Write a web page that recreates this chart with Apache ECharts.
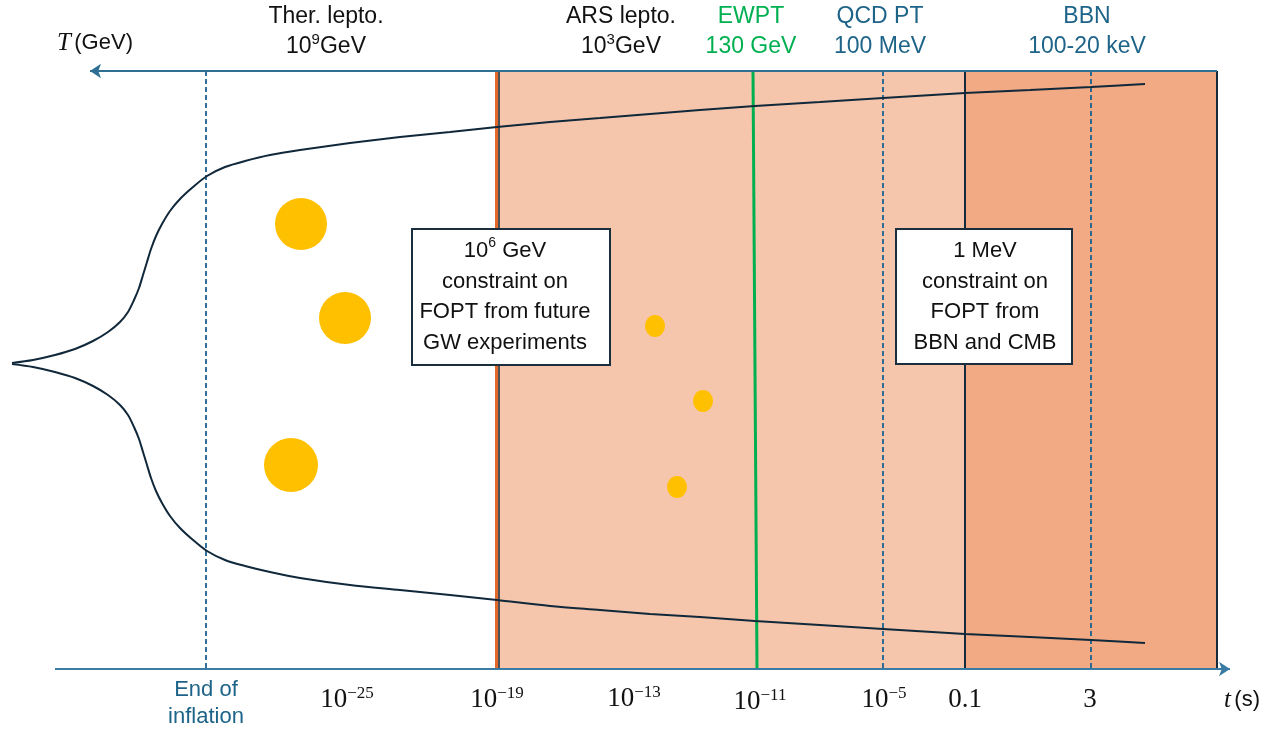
<!DOCTYPE html>
<html><head><meta charset="utf-8">
<script src="https://cdn.jsdelivr.net/npm/echarts@6/dist/echarts.min.js"></script>
<style>html,body{margin:0;padding:0;background:#fff}#c{width:1287px;height:733px}</style>
</head><body><div id="c"></div>
<script>
// ---------- schematic data (diagram units) ----------
const frameTop = 71, frameBottom = 669;
const bandStart = [497, 965];
const bandEnd = [965, 1217];
const dashedX = [206, 883, 1091];
const solidX = [965, 1217];
const gwLineX = 497;
const ewptLine = [[753, 71], [757, 669]];

const upperCurve = [[12,363],[33,360],[55,355],[75,349],[93,341],[108,332],[120,322],[128,312],[134,300],[139,288],[143,275],[147,262],[151,249],[156,236],[162,224],[170,211],[180,199],[193,187],[207,176],[225,167],[245,161],[270,155],[300,150],[350,143],[400,137],[450,132],[497,127],[550,122],[600,118],[650,114],[700,110],[755,106],[820,102],[883,98],[965,93],[1030,90],[1091,87],[1145,84]];
const lowerCurve = [[12,364],[33,367],[55,372],[75,378],[93,386],[108,395],[120,405],[128,415],[134,427],[139,439],[143,452],[147,465],[151,478],[156,491],[162,503],[170,516],[180,528],[193,540],[207,551],[225,560],[245,566],[270,572],[300,578],[350,585],[400,590],[450,595],[497,600],[550,606],[600,610],[650,614],[700,617],[755,621],[820,625],[883,629],[965,634],[1030,637],[1091,640],[1145,643]];

const bigBubbles = [[301,224],[345,318],[291,465]];
const bigBubbleSize = [52, 52, 54];
const smallBubbles = [[655,326],[703,401],[677,487]];

const boxes = [[[412,229],[610,365]], [[896,229],[1072,364]]];
const boxText = [
  '{bx|10}{bxs|6}{bx| GeV}\n{bx|constraint on}\n{bx|FOPT from future}\n{bx|GW experiments}',
  '{bx|1 MeV}\n{bx|constraint on}\n{bx|FOPT from}\n{bx|BBN and CMB}'
];
const boxTextPos = [[505,297],[985,297]];

const topLabelText = [
  '{k|Ther. lepto.}\n{k|10}{ks|9}{k|GeV}',
  '{k|ARS lepto.}\n{k|10}{ks|3}{k|GeV}',
  '{g|EWPT}\n{g|130 GeV}',
  '{b|QCD PT}\n{b|100 MeV}',
  '{b|BBN}\n{b|100-20 keV}'
];
const topLabelX = [326, 621, 751, 880, 1087];
const topLabelY = 32;

const tickText = ['{m|10}{ms|−25}','{m|10}{ms|−19}','{m|10}{ms|−13}','{m|10}{ms|−11}','{m|10}{ms|−5}','{m|0.1}','{m|3}'];
const tickX = [347, 497, 634, 760, 884, 965, 1090];
const tickY = [700, 700, 699, 702, 700, 700, 700];

const axisTitles = ['{it|T} {st|(GeV)}', '{it|t} {st|(s)}'];
const axisTitlePos = [[95, 43], [1242, 700]];
const endInflText = '{e|End of}\n{e|inflation}';
const endInflPos = [206, 703];

// ---------- styles ----------
const SANS = '"Liberation Sans", Arial, sans-serif';
const SERIF = '"Liberation Serif", "Times New Roman", serif';
const BLACK = '#111111', TEAL = '#1E6489', GREEN = '#00B050', DARK = '#152B3C';
const rich = {
  k: {fontFamily: SANS, fontSize: 23, lineHeight: 30, color: BLACK},
  ks: {fontFamily: SANS, fontSize: 15, lineHeight: 15, color: BLACK, verticalAlign: 'top'},
  g: {fontFamily: SANS, fontSize: 23, lineHeight: 30, color: GREEN},
  b: {fontFamily: SANS, fontSize: 23, lineHeight: 30, color: TEAL},
  bx: {fontFamily: SANS, fontSize: 22, lineHeight: 30.5, color: BLACK},
  bxs: {fontFamily: SANS, fontSize: 14, lineHeight: 17, color: BLACK, verticalAlign: 'top'},
  m: {fontFamily: SERIF, fontSize: 27, lineHeight: 30, color: BLACK},
  ms: {fontFamily: SERIF, fontSize: 17, lineHeight: 16, color: BLACK, verticalAlign: 'top'},
  it: {fontFamily: SERIF, fontSize: 25, fontStyle: 'italic', lineHeight: 30, color: BLACK},
  st: {fontFamily: SANS, fontSize: 22, lineHeight: 30, color: BLACK},
  e: {fontFamily: SANS, fontSize: 22, lineHeight: 27, color: TEAL}
};

const labelItems = [];
topLabelText.forEach((t, i) => labelItems.push({value: [topLabelX[i], topLabelY], txt: t}));
tickText.forEach((t, i) => labelItems.push({value: [tickX[i], tickY[i]], txt: t}));
axisTitles.forEach((t, i) => labelItems.push({value: axisTitlePos[i], txt: t}));
boxText.forEach((t, i) => labelItems.push({value: boxTextPos[i], txt: t}));
labelItems.push({value: endInflPos, txt: endInflText});

const vline = (x, style) => [{coord: [x, frameTop], lineStyle: style}, {coord: [x, frameBottom]}];

const bandColors = ['#F6C6AC', '#F1AA84'];

const chart = echarts.init(document.getElementById('c'), null, {renderer: 'canvas'});
chart.setOption({
  animation: false,
  backgroundColor: '#ffffff',
  grid: {left: 0, right: 0, top: 0, bottom: 0},
  xAxis: {type: 'value', min: 0, max: 1287, show: false},
  yAxis: {type: 'value', min: 0, max: 733, inverse: true, show: false},
  series: [
    { // background bands
      type: 'line', data: [], z: 1, silent: true,
      markArea: {z: 1, silent: true, label: {show: false},
        data: bandStart.map((s, i) => [{coord: [s, frameTop], itemStyle: {color: bandColors[i], opacity: 1}}, {coord: [bandEnd[i], frameBottom]}])}
    },
    { // vertical lines
      type: 'line', data: [], z: 2, silent: true,
      markLine: {z: 2, silent: true, symbol: ['none', 'none'], label: {show: false}, emphasis: {disabled: true},
        data: [
          ...dashedX.map(x => vline(x, {color: '#1B6290', width: 1.8, type: [5, 3], opacity: 1})),
          ...solidX.map(x => vline(x, {color: DARK, width: 2, type: 'solid', opacity: 1})),
          vline(gwLineX - 1, {color: '#E2692A', width: 3, type: 'solid', opacity: 1}),
          vline(gwLineX + 1.5, {color: DARK, width: 1.5, type: 'solid', opacity: 1}),
          [{coord: ewptLine[0], lineStyle: {color: GREEN, width: 3, type: 'solid', opacity: 1}}, {coord: ewptLine[1]}]
        ]}
    },
    { // axes arrows
      type: 'line', data: [], z: 3, silent: true,
      markLine: {z: 3, silent: true, symbol: ['none', 'arrow'], symbolSize: 11, label: {show: false}, emphasis: {disabled: true},
        data: [
          [{coord: [1217, frameTop], lineStyle: {color: '#2E6F93', width: 2, type: 'solid', opacity: 1}}, {coord: [90, frameTop]}],
          [{coord: [55, frameBottom], lineStyle: {color: '#3A7BA3', width: 2, type: 'solid', opacity: 1}}, {coord: [1230, frameBottom]}]
        ]}
    },
    {type: 'line', data: upperCurve, z: 4, smooth: 0.3, showSymbol: false, silent: true,
      lineStyle: {color: '#10283A', width: 2}},
    {type: 'line', data: lowerCurve, z: 4, smooth: 0.3, showSymbol: false, silent: true,
      lineStyle: {color: '#10283A', width: 2}},
    { // text boxes
      type: 'line', data: [], z: 10, silent: true,
      markArea: {z: 10, silent: true, label: {show: false},
        itemStyle: {color: '#ffffff', borderColor: '#1B2E3E', borderWidth: 2, opacity: 1},
        data: boxes.map(b => [{coord: b[0]}, {coord: b[1]}])}
    },
    {type: 'scatter', z: 11, silent: true, symbol: 'circle',
      data: bigBubbles.map((p, i) => ({value: p, symbolSize: bigBubbleSize[i]})),
      itemStyle: {color: '#FFC000', opacity: 1}},
    {type: 'scatter', z: 11, silent: true, symbol: 'circle', symbolSize: [20, 22],
      data: smallBubbles, itemStyle: {color: '#FFC000', opacity: 1}},
    {type: 'scatter', z: 12, silent: true, symbolSize: 0, data: labelItems,
      itemStyle: {opacity: 1},
      label: {show: true, position: 'inside', align: 'center', verticalAlign: 'middle', opacity: 1,
        formatter: p => p.data.txt, rich: rich}}
  ]
});
</script></body></html>
